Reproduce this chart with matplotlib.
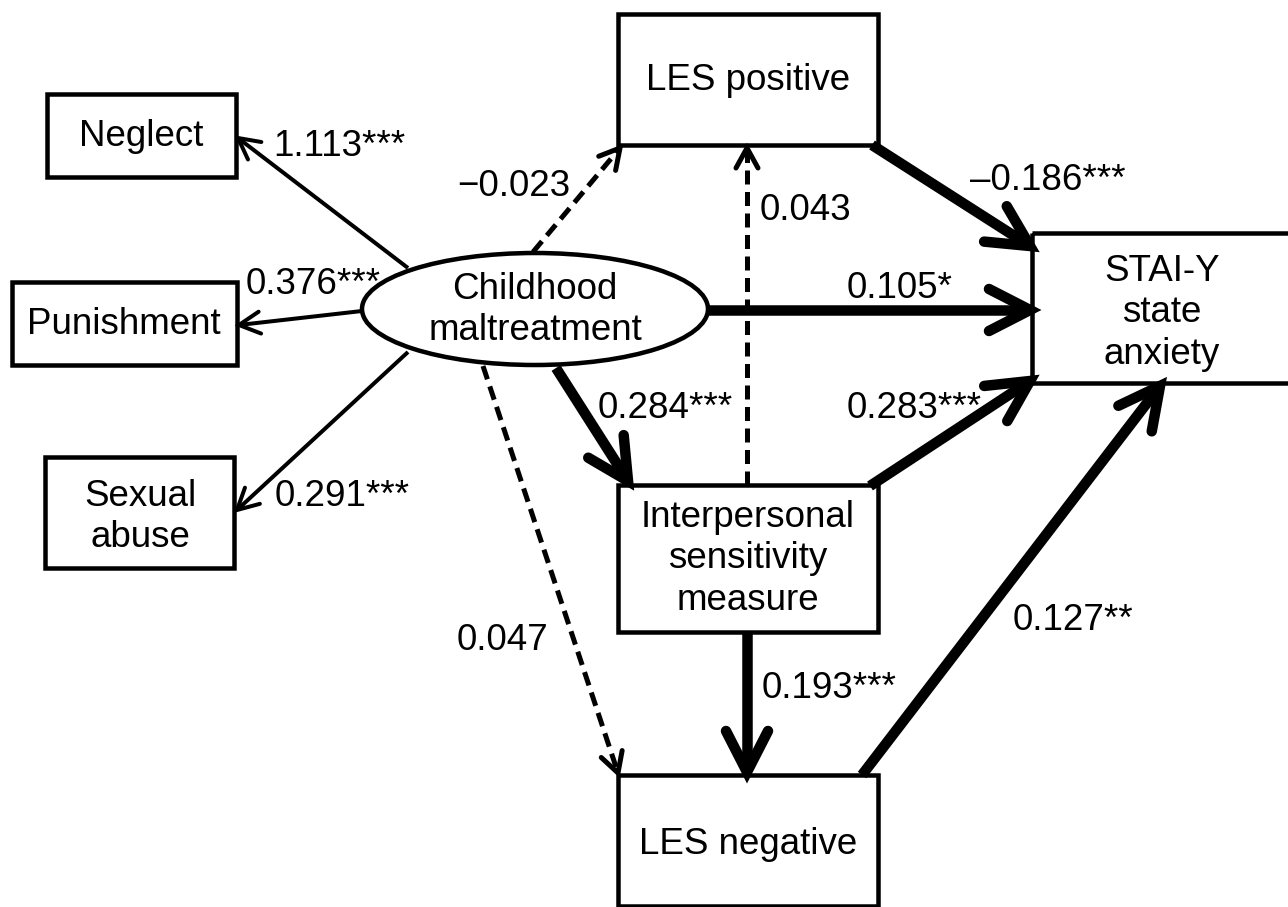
import numpy as np
import matplotlib
matplotlib.use("Agg")
import matplotlib.pyplot as plt
from matplotlib.patches import Rectangle, Ellipse

plt.rcParams['font.family'] = ['Liberation Sans', 'DejaVu Sans']

# ---- data: path coefficients ----
loading_labels = ["1.113***", "0.376***", "0.291***"]
path_labels = ["\u22120.023", "0.043", "\u20130.186***", "0.105*", "0.284***",
               "0.283***", "0.127**", "0.047", "0.193***"]
node_names = ["Neglect", "Punishment", "Sexual\nabuse", "LES positive",
              "Interpersonal\nsensitivity\nmeasure", "LES negative",
              "STAI-Y\nstate\nanxiety"]

# ---- layout (pixel space) ----
boxes = {  # x0, y0, x1, y1
    "Neglect": (47, 94, 236, 177),
    "Punishment": (12, 282, 237, 365),
    "Sexual\nabuse": (45, 457, 234, 568),
    "LES positive": (618, 14, 878, 145),
    "Interpersonal\nsensitivity\nmeasure": (618, 485, 878, 632),
    "LES negative": (618, 775, 878, 906),
    "STAI-Y\nstate\nanxiety": (1032, 233, 1300, 383),
}
text_centers = {
    "Neglect": (141, 137),
    "Punishment": (124, 325),
    "Sexual\nabuse": (140, 517),
    "LES positive": (748, 81),
    "Interpersonal\nsensitivity\nmeasure": (748, 559),
    "LES negative": (748, 844),
    "STAI-Y\nstate\nanxiety": (1162, 313),
}
ell_c, ell_w, ell_h = (535, 309), 346, 112

# edges: start, end, kind ('thin','thick','dash'), label, label pos (left x, center y)
edges = [
    ((408, 268), (238, 138), 'thin', loading_labels[0], (273, 147)),
    ((362, 311), (239, 325), 'thin', loading_labels[1], (246, 284)),
    ((408, 352), (237, 510), 'thin', loading_labels[2], (275, 497)),
    ((533, 252), (620, 148), 'dash', path_labels[0], (457, 186)),
    ((747, 485), (747, 148), 'dash', path_labels[1], (760, 211)),
    ((872, 145), (1030, 246), 'thick', path_labels[2], (970, 181)),
    ((708, 310), (1030, 310), 'thick', path_labels[3], (847, 288)),
    ((556, 368), (628, 481), 'thick', path_labels[4], (598, 409)),
    ((870, 486), (1030, 381), 'thick', path_labels[5], (847, 409)),
    ((862, 775), (1160, 386), 'thick', path_labels[6], (1013, 620)),
    ((483, 366), (618, 773), 'dash', path_labels[7], (457, 641)),
    ((747, 632), (747, 772), 'thick', path_labels[8], (762, 688)),
]

PX = 0.72  # points per pixel at dpi 100
FS = 26.5

fig = plt.figure(figsize=(12.88, 9.07), dpi=100)
ax = fig.add_axes([0, 0, 1, 1])
ax.set_xlim(0, 1288)
ax.set_ylim(907, 0)
ax.axis('off')

for name in node_names:
    x0, y0, x1, y1 = boxes[name]
    ax.add_patch(Rectangle((x0, y0), x1 - x0, y1 - y0, fill=False,
                           lw=4.5 * PX, ec='black', joinstyle='miter', zorder=3))
    cx, cy = text_centers[name]
    ax.text(cx, cy, name, ha='center', va='center', fontsize=FS,
            linespacing=1.25, zorder=4)

ax.add_patch(Ellipse(ell_c, ell_w, ell_h, fill=True, fc='white', ec='black',
                     lw=4.5 * PX, zorder=3))
ax.text(ell_c[0], ell_c[1] + 1, "Childhood\nmaltreatment", ha='center', va='center',
        fontsize=FS, linespacing=1.2, zorder=4)

styles = {
    'thin': dict(lw=4, hl=21, hw=11),
    'thick': dict(lw=10.5, hl=41, hw=21),
    'dash': dict(lw=5, hl=20, hw=11),
}

for p0, p1, kind, lab, lpos in edges:
    st = styles[kind]
    p0 = np.array(p0, float)
    p1 = np.array(p1, float)
    d = p1 - p0
    u = d / np.hypot(*d)
    n = np.array([-u[1], u[0]])
    lw = st['lw'] * PX
    shaft_end = p1 - u * st['lw'] * 0.5
    if kind == 'dash':
        ax.plot([p0[0], shaft_end[0]], [p0[1], shaft_end[1]], color='black',
                lw=lw, linestyle=(0, (2.8, 1.5)), dash_capstyle='butt', zorder=2)
    else:
        ax.plot([p0[0], shaft_end[0]], [p0[1], shaft_end[1]], color='black',
                lw=lw, solid_capstyle='butt', zorder=2)
    a = p1 - u * st['hl'] + n * st['hw']
    b = p1 - u * st['hl'] - n * st['hw']
    ax.plot([a[0], p1[0], b[0]], [a[1], p1[1], b[1]], color='black', lw=lw,
            solid_capstyle='round', solid_joinstyle='miter', zorder=2)
    ax.text(lpos[0], lpos[1], lab, ha='left', va='center', fontsize=FS, zorder=5)

fig.savefig("out.png", dpi=100, facecolor='white')
